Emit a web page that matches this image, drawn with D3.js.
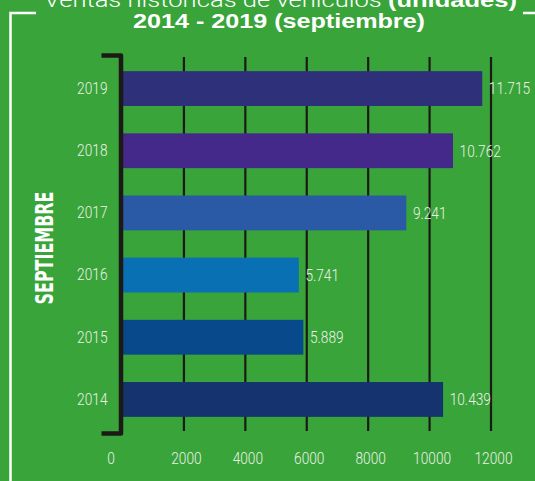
<!DOCTYPE html>
<html>
<head>
<meta charset="utf-8">
<script src="https://cdn.jsdelivr.net/npm/d3@7"></script>
<style>
  body { margin: 0; background: #38a43a; }
  .lbl { font-family: Roboto, Lato, sans-serif; font-weight: 300; fill: #eef2e6; }
</style>
</head>
<body>
<script>
// Chart data
var years = ["2019", "2018", "2017", "2016", "2015", "2014"];
var units = [11715, 10762, 9241, 5741, 5889, 10439];
var barColors = ["#2e307a", "#45298a", "#2a5aa6", "#0870b3", "#07498a", "#15336e"];
var xTicks = [0, 2000, 4000, 6000, 8000, 10000, 12000];

// SVG area
var svgWidth = 535;
var svgHeight = 481;
var squeeze = 0.83; // labels are set in a narrow face

var svg = d3.select("body")
  .append("svg")
  .attr("width", svgWidth)
  .attr("height", svgHeight);

svg.append("rect")
  .attr("width", svgWidth)
  .attr("height", svgHeight)
  .attr("fill", "#38a43a");

// Scales
var xScale = d3.scaleLinear()
  .domain([0, 12000])
  .range([122.5, 491]);

var yScale = d3.scaleBand()
  .domain(years)
  .range([55, 433])
  .paddingInner(0.44)
  .paddingOuter(0.26);

// White frame
svg.append("path")
  .attr("d", "M36,13H10.5V481")
  .attr("fill", "none")
  .attr("stroke", "#fff")
  .attr("stroke-width", 2.5);
svg.append("path")
  .attr("d", "M523,13H535")
  .attr("stroke", "#fff")
  .attr("stroke-width", 2.5);

// Titles
svg.append("text")
  .attr("x", 280.5)
  .attr("y", 6.5)
  .attr("text-anchor", "middle")
  .attr("textLength", 473)
  .attr("lengthAdjust", "spacingAndGlyphs")
  .style("font-family", "Roboto, Lato, sans-serif")
  .style("font-size", "21px")
  .style("font-weight", 300)
  .attr("fill", "#fff")
  .html('Ventas históricas de vehículos <tspan font-weight="bold" font-family="Liberation Sans, Arial, sans-serif">(unidades)</tspan>');

svg.append("text")
  .attr("x", 279)
  .attr("y", 28.3)
  .attr("text-anchor", "middle")
  .attr("textLength", 292)
  .attr("lengthAdjust", "spacingAndGlyphs")
  .style("font-family", "Liberation Sans, Arial, sans-serif")
  .style("font-size", "21px")
  .style("font-weight", "bold")
  .attr("fill", "#fff")
  .text("2014 - 2019 (septiembre)");

// Vertical side label
svg.append("text")
  .attr("transform", "translate(52.7,248) rotate(-90)")
  .attr("text-anchor", "middle")
  .attr("textLength", 113)
  .attr("lengthAdjust", "spacingAndGlyphs")
  .style("font-family", "\"DejaVu Sans Condensed\", sans-serif")
  .style("font-size", "24.7px")
  .style("font-weight", "bold")
  .attr("fill", "#fff")
  .text("SEPTIEMBRE");

// Gridlines
var yr = yScale.range();
svg.append("g")
  .selectAll("line")
  .data(xTicks.filter(d => d > 0))
  .enter()
  .append("line")
  .attr("x1", d => xScale(d))
  .attr("x2", d => xScale(d))
  .attr("y1", yr[0] + 2)
  .attr("y2", yr[1] - 2)
  .attr("stroke", "#1c1a17")
  .attr("stroke-width", 2.2);

// Bars
svg.selectAll(".bar")
  .data(units)
  .enter()
  .append("rect")
  .classed("bar", true)
  .attr("x", xScale(0))
  .attr("y", (d, i) => yScale(years[i]))
  .attr("width", d => xScale(d) - xScale(0))
  .attr("height", yScale.bandwidth())
  .attr("fill", (d, i) => barColors[i]);

// Value labels
var fmt = d => d3.format(",")(d).replace(",", ".");
svg.selectAll(".val")
  .data(units)
  .enter()
  .append("text")
  .attr("class", "val lbl")
  .attr("transform", (d, i) => `translate(${xScale(d) + 6.6},${yScale(years[i]) + yScale.bandwidth() / 2}) scale(${squeeze},1)`)
  .attr("dy", "0.35em")
  .style("font-size", "16.5px")
  .text(fmt);

// Y axis with bracket as domain
var yAxis = d3.axisLeft(yScale)
  .tickSizeInner(0)
  .tickSizeOuter(19)
  .tickPadding(13);

var yAxisGroup = svg.append("g")
  .attr("transform", "translate(120.5,0)")
  .call(yAxis);
yAxisGroup.select(".domain")
  .attr("stroke", "#1c1a17")
  .attr("stroke-width", 4.5)
  .attr("stroke-linejoin", "round");
yAxisGroup.selectAll("text")
  .attr("class", "lbl")
  .attr("fill", null)
  .attr("x", -13 / squeeze)
  .attr("transform", `scale(${squeeze},1)`)
  .style("font-size", "16.5px");

// X axis labels
var xAxis = d3.axisBottom(xScale)
  .tickValues(xTicks)
  .tickSize(0)
  .tickPadding(21)
  .tickFormat(d3.format("d"));

var xAxisGroup = svg.append("g")
  .attr("transform", "translate(0,431)")
  .call(xAxis);
xAxisGroup.select(".domain").remove();
xAxisGroup.selectAll("text")
  .attr("class", "lbl")
  .attr("fill", null)
  .attr("x", d => (d === 0 ? -12 : 2) / squeeze)
  .attr("transform", `scale(${squeeze},1)`)
  .style("font-size", "16.5px");
</script>
</body>
</html>
